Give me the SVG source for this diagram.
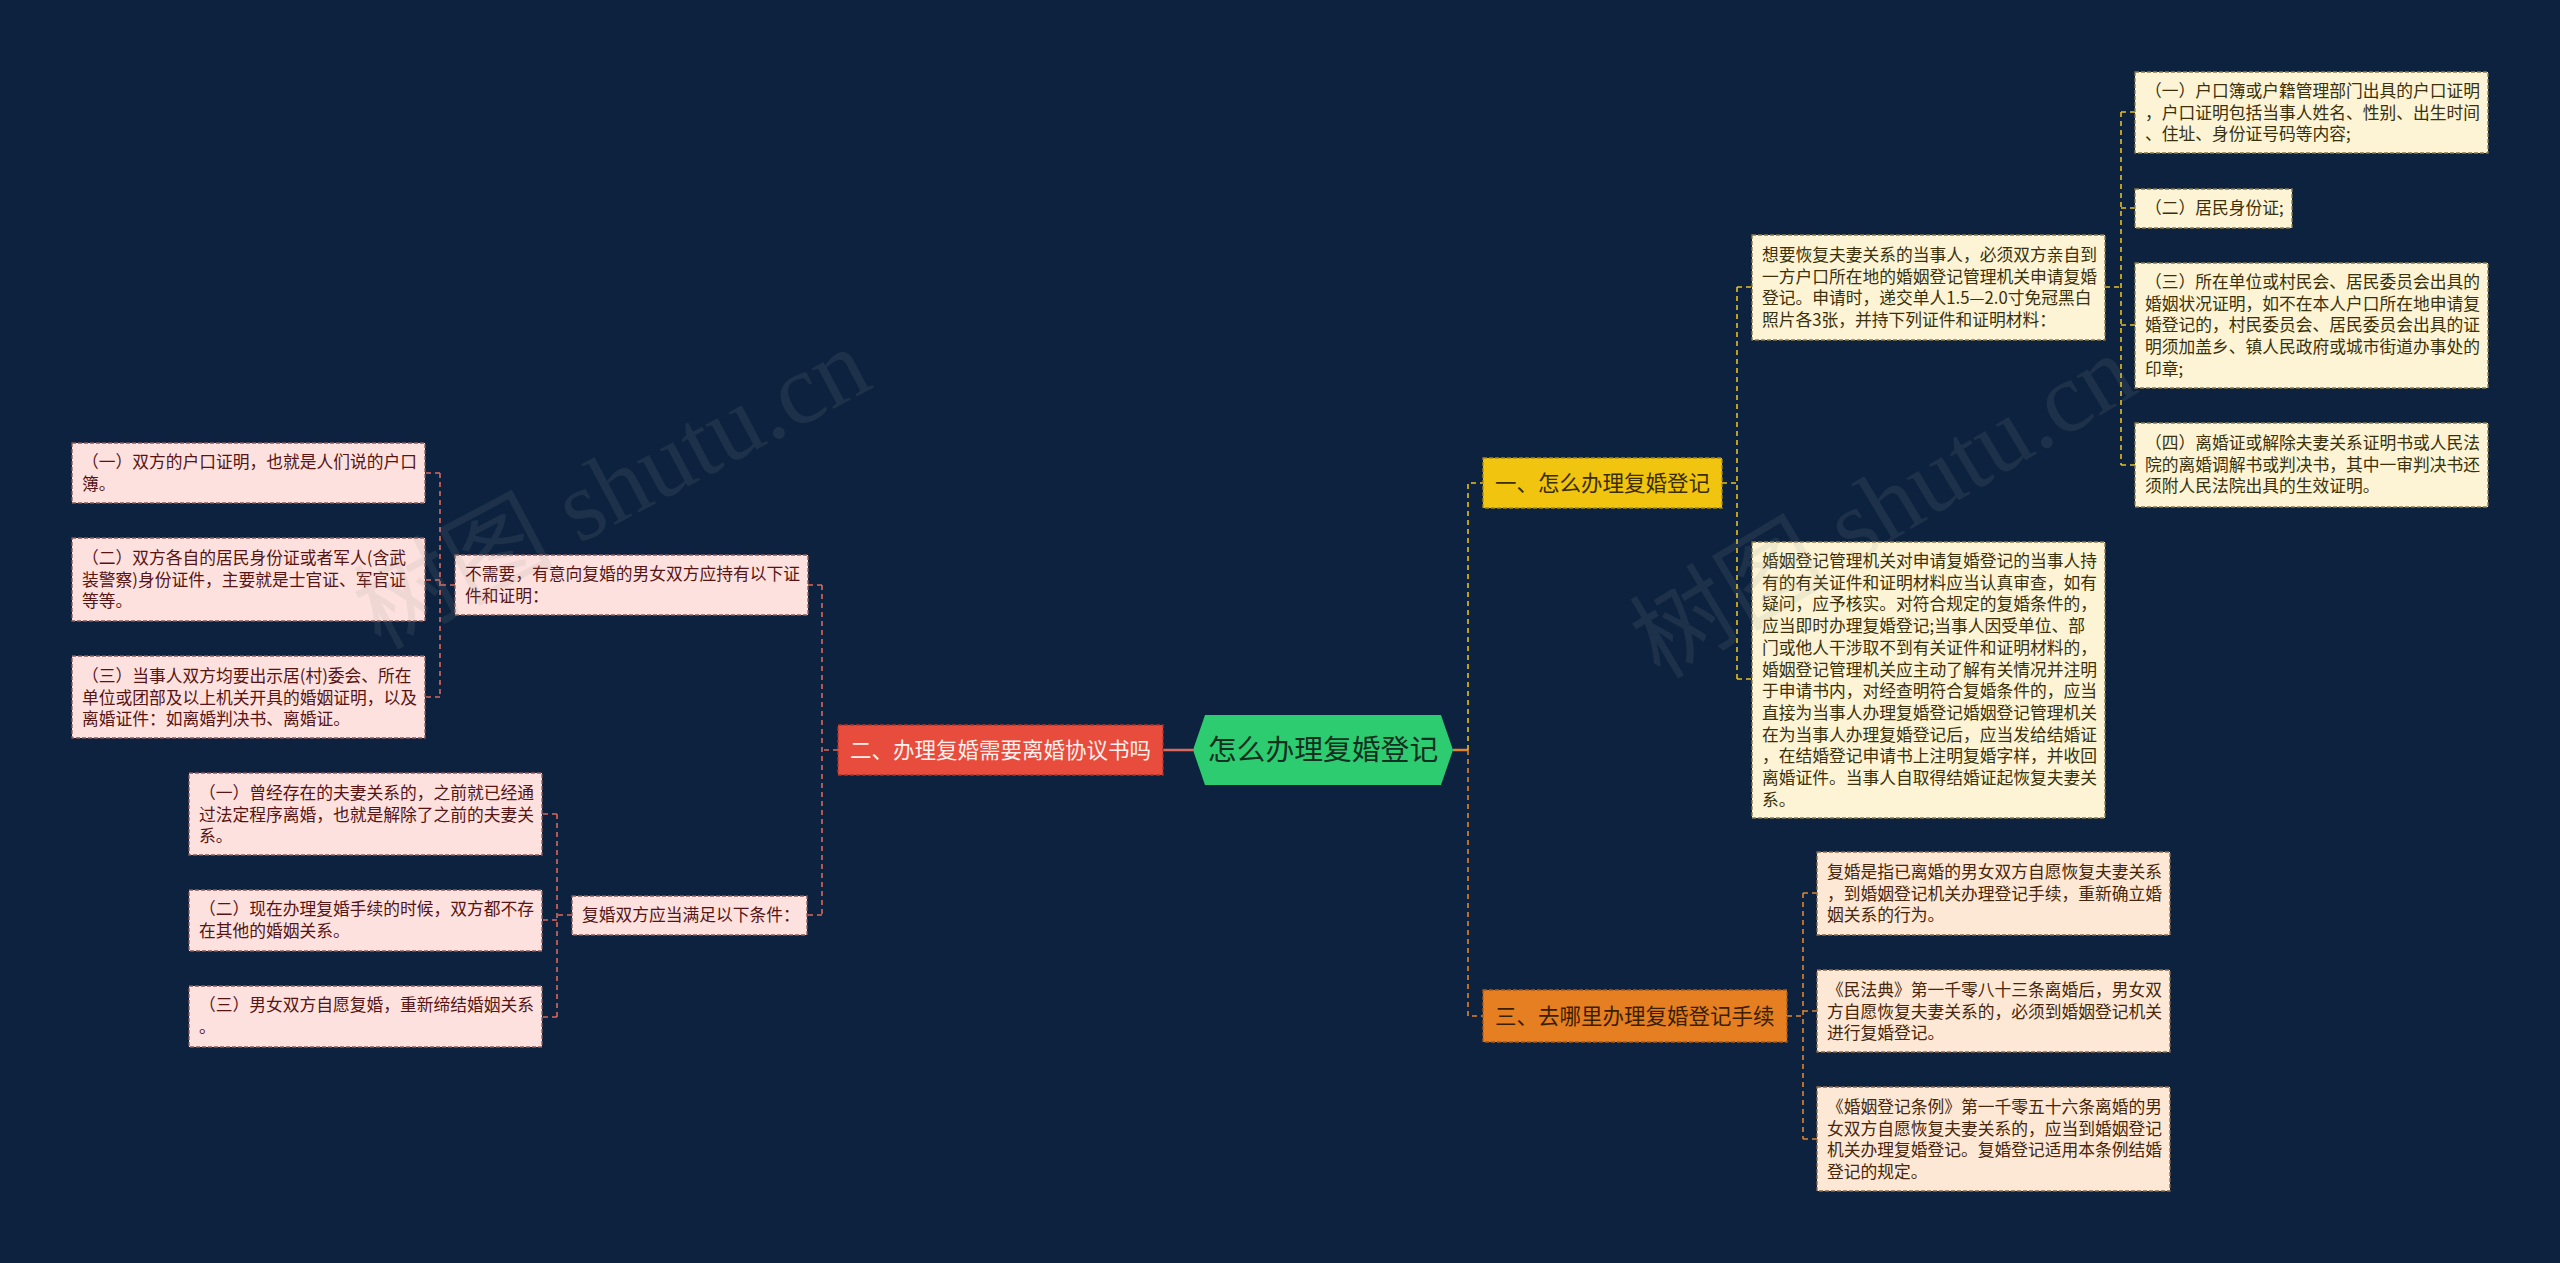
<svg xmlns="http://www.w3.org/2000/svg" width="2560" height="1263" viewBox="0 0 2560 1263">
<style>
text{font-family:"Noto Sans CJK SC","Liberation Sans",sans-serif;}
.bg{fill:#0c223e;}
.t{font-size:16.75px;}
.by{fill:#fcf4d4;stroke:#8a7a48;stroke-width:1.3;stroke-dasharray:4 2;}
.bo{fill:#fce8d5;stroke:#8a6a48;stroke-width:1.3;stroke-dasharray:4 2;}
.br{fill:#fde1de;stroke:#8a5a58;stroke-width:1.3;stroke-dasharray:4 2;}
.ty{fill:#3a300c;}
.to{fill:#46260c;}
.tr{fill:#561414;}
.cy{fill:none;stroke:#e8c020;stroke-width:1.6;stroke-dasharray:5 4;}
.co{fill:none;stroke:#e0852e;stroke-width:1.6;stroke-dasharray:5 4;}
.cr{fill:none;stroke:#d9695c;stroke-width:1.6;stroke-dasharray:5 4;}
.wm{fill:#9a9a9a;opacity:0.13;font-size:100px;font-family:"Liberation Serif","Noto Sans CJK SC",serif;}
.mt{font-size:21.5px;}
</style>
<rect class="bg" x="0" y="0" width="2560" height="1263"/>

<g id="connectors">
<path d="M1453,750 L1468,750" fill="none" stroke="#e0852e" stroke-width="2.5"/>
<path d="M1193,750 L1163,750" fill="none" stroke="#d9695c" stroke-width="2.5"/>
<path class="cy" d="M1468,750 L1468,483 L1483,483"/>
<path class="co" d="M1468,750 L1468,1016 L1483,1016"/>
<path class="cy" d="M1722,483 L1737,483 M1737,287 L1737,679 M1737,287 L1752,287 M1737,679 L1752,679"/>
<path class="cy" d="M2105,287 L2121,287 M2121,112 L2121,465 M2121,112 L2135,112 M2121,208 L2135,208 M2121,325 L2135,325 M2121,465 L2135,465"/>
<path class="co" d="M1787,1016 L1803,1016 M1803,893 L1803,1139 M1803,893 L1817,893 M1803,1011 L1817,1011 M1803,1139 L1817,1139"/>
<path class="cr" d="M838,750 L822,750 M822,585 L822,915 M822,585 L808,585 M822,915 L807,915"/>
<path class="cr" d="M455,585 L440,585 M440,473 L440,697 M440,473 L425,473 M440,580 L425,580 M440,697 L425,697"/>
<path class="cr" d="M572,915 L557,915 M557,814 L557,1017 M557,814 L542,814 M557,920 L542,920 M557,1017 L542,1017"/>
</g>

<g id="center">
<polygon points="1193,750 1205,715 1441,715 1453,750 1441,785 1205,785" fill="#2ecc71"/>
<text x="1323" y="760" font-size="28.8" text-anchor="middle" fill="#123020">怎么办理复婚登记</text>
</g>

<g id="n1">
<rect x="1483" y="458" width="239" height="50" fill="#f1c40f" stroke="#a88a10" stroke-width="1.3" stroke-dasharray="4 2"/>
<text class="mt" x="1495" y="491" fill="#3a2e00">一、怎么办理复婚登记</text>
</g>
<g id="n2">
<rect x="838" y="725" width="325" height="50" fill="#e74c3c" stroke="#a83428" stroke-width="1.3" stroke-dasharray="4 2"/>
<text class="mt" x="850" y="758" fill="#fff0ee">二、办理复婚需要离婚协议书吗</text>
</g>
<g id="n3">
<rect x="1483" y="990" width="304" height="52" fill="#e67e22" stroke="#a85a18" stroke-width="1.3" stroke-dasharray="4 2"/>
<text class="mt" x="1495" y="1024" fill="#3a1e00">三、去哪里办理复婚登记手续</text>
</g>

<g id="a1">
<rect class="by" x="1752" y="235" width="353" height="105"/>
<text class="t ty" x="1762"><tspan x="1762" y="261">想要恢复夫妻关系的当事人，必须双方亲自到</tspan><tspan x="1762" dy="21.7">一方户口所在地的婚姻登记管理机关申请复婚</tspan><tspan x="1762" dy="21.7">登记。申请时，递交单人1.5—2.0寸免冠黑白</tspan><tspan x="1762" dy="21.7">照片各3张，并持下列证件和证明材料：</tspan></text>
</g>
<g id="a2">
<rect class="by" x="1752" y="542" width="353" height="276"/>
<text class="t ty"><tspan x="1762" y="567">婚姻登记管理机关对申请复婚登记的当事人持</tspan><tspan x="1762" dy="21.7">有的有关证件和证明材料应当认真审查，如有</tspan><tspan x="1762" dy="21.7">疑问，应予核实。对符合规定的复婚条件的，</tspan><tspan x="1762" dy="21.7">应当即时办理复婚登记;当事人因受单位、部</tspan><tspan x="1762" dy="21.7">门或他人干涉取不到有关证件和证明材料的，</tspan><tspan x="1762" dy="21.7">婚姻登记管理机关应主动了解有关情况并注明</tspan><tspan x="1762" dy="21.7">于申请书内，对经查明符合复婚条件的，应当</tspan><tspan x="1762" dy="21.7">直接为当事人办理复婚登记婚姻登记管理机关</tspan><tspan x="1762" dy="21.7">在为当事人办理复婚登记后，应当发给结婚证</tspan><tspan x="1762" dy="21.7">，在结婚登记申请书上注明复婚字样，并收回</tspan><tspan x="1762" dy="21.7">离婚证件。当事人自取得结婚证起恢复夫妻关</tspan><tspan x="1762" dy="21.7">系。</tspan></text>
</g>

<g id="c1">
<rect class="by" x="2135" y="72" width="353" height="81"/>
<text class="t ty"><tspan x="2145" y="97">（一）户口簿或户籍管理部门出具的户口证明</tspan><tspan x="2145" dy="21.7">，户口证明包括当事人姓名、性别、出生时间</tspan><tspan x="2145" dy="21.7">、住址、身份证号码等内容;</tspan></text>
</g>
<g id="c2">
<rect class="by" x="2135" y="189" width="157" height="39"/>
<text class="t ty" x="2145" y="214">（二）居民身份证;</text>
</g>
<g id="c3">
<rect class="by" x="2135" y="263" width="353" height="125"/>
<text class="t ty"><tspan x="2145" y="288">（三）所在单位或村民会、居民委员会出具的</tspan><tspan x="2145" dy="21.7">婚姻状况证明，如不在本人户口所在地申请复</tspan><tspan x="2145" dy="21.7">婚登记的，村民委员会、居民委员会出具的证</tspan><tspan x="2145" dy="21.7">明须加盖乡、镇人民政府或城市街道办事处的</tspan><tspan x="2145" dy="21.7">印章;</tspan></text>
</g>
<g id="c4">
<rect class="by" x="2135" y="423" width="353" height="84"/>
<text class="t ty"><tspan x="2145" y="449">（四）离婚证或解除夫妻关系证明书或人民法</tspan><tspan x="2145" dy="21.7">院的离婚调解书或判决书，其中一审判决书还</tspan><tspan x="2145" dy="21.7">须附人民法院出具的生效证明。</tspan></text>
</g>

<g id="d1">
<rect class="bo" x="1817" y="852" width="353" height="83"/>
<text class="t to"><tspan x="1827" y="878">复婚是指已离婚的男女双方自愿恢复夫妻关系</tspan><tspan x="1827" dy="21.7">，到婚姻登记机关办理登记手续，重新确立婚</tspan><tspan x="1827" dy="21.7">姻关系的行为。</tspan></text>
</g>
<g id="d2">
<rect class="bo" x="1817" y="970" width="353" height="82"/>
<text class="t to"><tspan x="1827" y="996">《民法典》第一千零八十三条离婚后，男女双</tspan><tspan x="1827" dy="21.7">方自愿恢复夫妻关系的，必须到婚姻登记机关</tspan><tspan x="1827" dy="21.7">进行复婚登记。</tspan></text>
</g>
<g id="d3">
<rect class="bo" x="1817" y="1087" width="353" height="104"/>
<text class="t to"><tspan x="1827" y="1113">《婚姻登记条例》第一千零五十六条离婚的男</tspan><tspan x="1827" dy="21.7">女双方自愿恢复夫妻关系的，应当到婚姻登记</tspan><tspan x="1827" dy="21.7">机关办理复婚登记。复婚登记适用本条例结婚</tspan><tspan x="1827" dy="21.7">登记的规定。</tspan></text>
</g>

<g id="e1">
<rect class="br" x="455" y="555" width="353" height="60"/>
<text class="t tr"><tspan x="465" y="580">不需要，有意向复婚的男女双方应持有以下证</tspan><tspan x="465" dy="21.7">件和证明：</tspan></text>
</g>
<g id="h1">
<rect class="br" x="72" y="443" width="353" height="60"/>
<text class="t tr"><tspan x="82" y="468">（一）双方的户口证明，也就是人们说的户口</tspan><tspan x="82" dy="21.7">簿。</tspan></text>
</g>
<g id="h2">
<rect class="br" x="72" y="538" width="353" height="83"/>
<text class="t tr"><tspan x="82" y="564">（二）双方各自的居民身份证或者军人(含武</tspan><tspan x="82" dy="21.7">装警察)身份证件，主要就是士官证、军官证</tspan><tspan x="82" dy="21.7">等等。</tspan></text>
</g>
<g id="h3">
<rect class="br" x="72" y="656" width="353" height="82"/>
<text class="t tr"><tspan x="82" y="682">（三）当事人双方均要出示居(村)委会、所在</tspan><tspan x="82" dy="21.7">单位或团部及以上机关开具的婚姻证明，以及</tspan><tspan x="82" dy="21.7">离婚证件：如离婚判决书、离婚证。</tspan></text>
</g>

<g id="f1">
<rect class="br" x="572" y="896" width="235" height="39"/>
<text class="t tr" x="582" y="921">复婚双方应当满足以下条件：</text>
</g>
<g id="g1">
<rect class="br" x="189" y="773" width="353" height="82"/>
<text class="t tr"><tspan x="199" y="799">（一）曾经存在的夫妻关系的，之前就已经通</tspan><tspan x="199" dy="21.7">过法定程序离婚，也就是解除了之前的夫妻关</tspan><tspan x="199" dy="21.7">系。</tspan></text>
</g>
<g id="g2">
<rect class="br" x="189" y="890" width="353" height="61"/>
<text class="t tr"><tspan x="199" y="915">（二）现在办理复婚手续的时候，双方都不存</tspan><tspan x="199" dy="21.7">在其他的婚姻关系。</tspan></text>
</g>
<g id="g3">
<rect class="br" x="189" y="986" width="353" height="61"/>
<text class="t tr"><tspan x="199" y="1011">（三）男女双方自愿复婚，重新缔结婚姻关系</tspan><tspan x="199" dy="21.7">。</tspan></text>
</g>

<g id="watermark">
<text class="wm" x="380" y="650" transform="rotate(-28 380 650)">树图 shutu.cn</text>
<text class="wm" x="1660" y="680" transform="rotate(-31 1660 680)">树图 shutu.cn</text>
</g>
</svg>
